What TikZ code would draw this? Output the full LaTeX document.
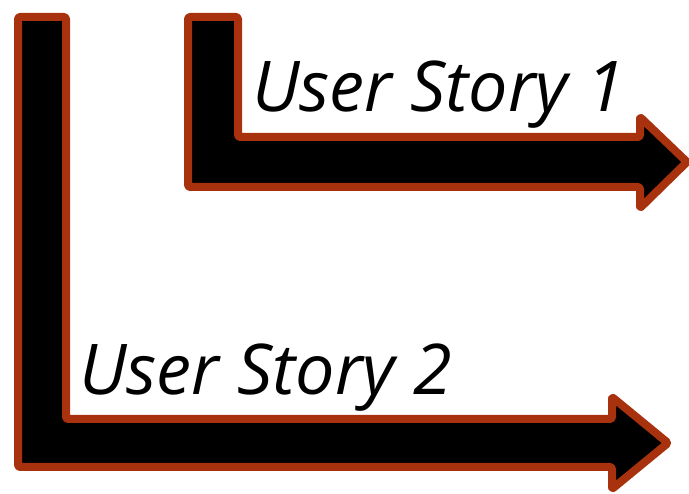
\documentclass[tikz,border=0pt]{standalone}
\usepackage{fontspec}
\setmainfont{Open Sans}
\definecolor{rust}{RGB}{168,50,14}
\begin{document}
\begin{tikzpicture}[x=1pt,y=-1pt,
  larrow/.style={draw=rust,fill=black,line width=8pt,line join=round,rounded corners=1.5pt},
  story/.style={font=\itshape\fontsize{70}{80}\selectfont,anchor=base west,inner sep=0pt}]
\useasboundingbox (0,0) rectangle (689,494);
\draw[larrow] (18,17) -- (66,17) -- (66,419) -- (612,419) -- (612,397) -- (668,443) -- (612,489) -- (612,467) -- (18,467) -- cycle;
\draw[larrow] (188,17) -- (238,17) -- (238,137) -- (640,137) -- (640,117) -- (687,162) -- (640,208) -- (640,187) -- (188,187) -- cycle;
\node[story] (s1) at (252,112) {User Story 1};
\node[story] (s2) at (79,395) {User Story 2};
\end{tikzpicture}
\end{document}
